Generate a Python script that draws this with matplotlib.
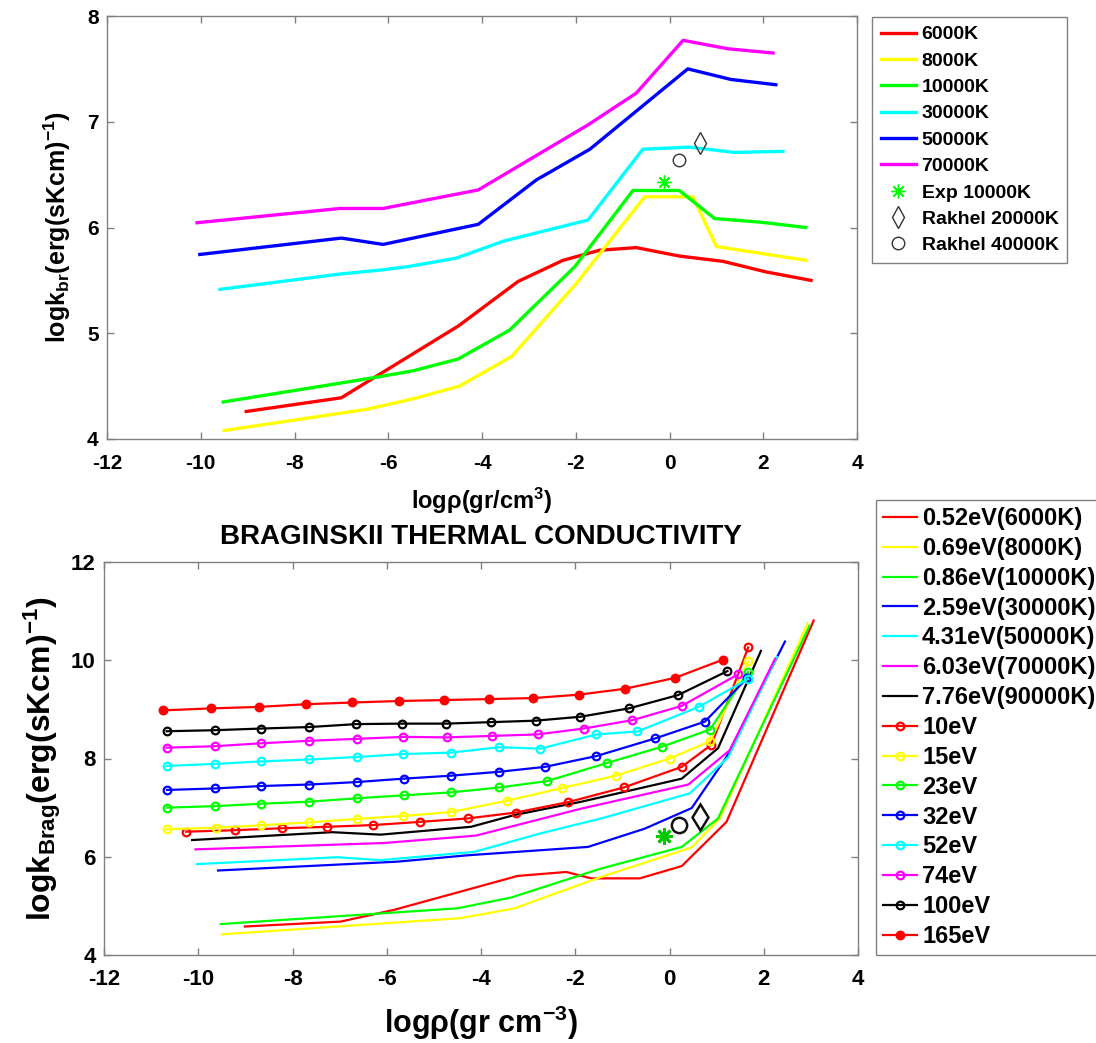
import matplotlib
matplotlib.use("Agg")
import matplotlib.pyplot as plt

plt.rcParams['font.family'] = ['Liberation Sans', 'DejaVu Sans']
plt.rcParams['font.weight'] = 'bold'
plt.rcParams['axes.unicode_minus'] = False
plt.rcParams['mathtext.fontset'] = 'custom'
plt.rcParams['mathtext.rm'] = 'Liberation Sans:bold'
plt.rcParams['mathtext.it'] = 'Liberation Sans:bold'
plt.rcParams['mathtext.bf'] = 'Liberation Sans:bold'
plt.rcParams['mathtext.default'] = 'rm'

# ---------------- upper panel: bremsstrahlung-type conductivity ----------------
top_labels = ['6000K', '8000K', '10000K', '30000K', '50000K', '70000K']
top_colors = ['#ff0000', '#ffff00', '#00ff00', '#00ffff', '#0000ff', '#ff00ff']

x_6000 = [-9.03, -7.0, -4.5, -3.23, -2.27, -1.49, -0.71, 0.21, 1.14, 2.06, 3.02]
y_6000 = [4.26, 4.39, 5.07, 5.49, 5.69, 5.785, 5.81, 5.73, 5.68, 5.58, 5.50]
x_8000 = [-9.5, -6.47, -5.47, -4.48, -3.37, -1.99, -0.53, 0.50, 1.0, 2.91]
y_8000 = [4.08, 4.28, 4.38, 4.50, 4.78, 5.47, 6.29, 6.29, 5.82, 5.69]
x_10000 = [-9.52, -7.0, -6.18, -5.47, -4.51, -3.41, -2.02, -0.78, 0.21, 0.96, 1.95, 2.91]
y_10000 = [4.35, 4.53, 4.59, 4.645, 4.756, 5.03, 5.63, 6.35, 6.35, 6.085, 6.05, 6.0]
x_30000 = [-9.59, -7.03, -6.11, -5.58, -4.55, -3.55, -1.74, -0.57, 0.43, 1.39, 2.42]
y_30000 = [5.415, 5.56, 5.60, 5.63, 5.71, 5.87, 6.07, 6.74, 6.76, 6.71, 6.72]
x_50000 = [-10.02, -7.0, -6.11, -4.08, -2.84, -1.70, 0.39, 1.31, 2.27]
y_50000 = [5.745, 5.90, 5.84, 6.03, 6.45, 6.74, 7.50, 7.40, 7.35]
x_70000 = [-10.08, -7.03, -6.11, -4.08, -1.74, -0.71, 0.29, 1.25, 2.21]
y_70000 = [6.045, 6.18, 6.18, 6.355, 6.97, 7.27, 7.77, 7.69, 7.65]

# reference points
exp_10000 = (-0.12, 6.43)
rakhel_20000 = (0.65, 6.80)
rakhel_40000 = (0.21, 6.64)

# ---------------- lower panel: Braginskii conductivity ----------------
low_labels = ['0.52eV(6000K)', '0.69eV(8000K)', '0.86eV(10000K)', '2.59eV(30000K)',
              '4.31eV(50000K)', '6.03eV(70000K)', '7.76eV(90000K)']
low_colors = ['#ff0000', '#ffff00', '#00ff00', '#0000ff', '#00ffff', '#ff00ff', '#000000']

x_052 = [-9.01, -6.98, -5.84, -3.22, -2.19, -1.66, -0.63, 0.26, 1.21, 3.06]
y_052 = [4.58, 4.68, 4.92, 5.61, 5.69, 5.56, 5.56, 5.81, 6.71, 10.81]
x_069 = [-9.50, -4.43, -3.29, -1.45, 0.47, 1.07, 2.93]
y_069 = [4.42, 4.75, 4.95, 5.59, 6.19, 6.78, 10.75]
x_086 = [-9.52, -4.50, -3.36, -1.45, 0.26, 1.03, 2.97]
y_086 = [4.63, 4.95, 5.17, 5.76, 6.20, 6.78, 10.70]
x_259 = [-9.58, -5.78, -4.28, -1.73, -0.53, 0.47, 1.21, 2.45]
y_259 = [5.72, 5.90, 6.03, 6.20, 6.57, 6.99, 8.03, 10.38]
x_431 = [-10.03, -7.05, -6.13, -4.14, -2.72, -1.45, 0.43, 1.25, 2.28]
y_431 = [5.85, 5.99, 5.93, 6.10, 6.48, 6.78, 7.29, 8.03, 10.07]
x_603 = [-10.06, -6.06, -4.11, -1.87, 0.40, 1.28, 2.24]
y_603 = [6.15, 6.28, 6.43, 6.98, 7.47, 8.17, 10.03]
x_776 = [-10.13, -7.16, -6.13, -4.21, -3.29, -1.87, 0.26, 1.03, 1.94]
y_776 = [6.34, 6.50, 6.45, 6.61, 6.85, 7.12, 7.59, 8.21, 10.19]

high_labels = ['10eV', '15eV', '23eV', '32eV', '52eV', '74eV', '100eV', '165eV']
high_colors = ['#ff0000', '#ffff00', '#00ff00', '#0000ff', '#00ffff', '#ff00ff', '#000000', '#ff0000']

x_10 = [-10.26, -9.23, -8.23, -7.26, -6.29, -5.29, -4.28, -3.26, -2.16, -0.97, 0.26, 0.89, 1.67]
y_10 = [6.51, 6.54, 6.58, 6.61, 6.645, 6.71, 6.78, 6.90, 7.11, 7.41, 7.83, 8.28, 10.26]
x_15 = [-10.66, -9.63, -8.66, -7.65, -6.64, -5.65, -4.64, -3.45, -2.28, -1.14, 0.0, 0.86, 1.67]
y_15 = [6.56, 6.59, 6.64, 6.70, 6.77, 6.83, 6.91, 7.14, 7.40, 7.65, 8.00, 8.35, 9.98]
x_23 = [-10.66, -9.65, -8.66, -7.65, -6.64, -5.64, -4.64, -3.61, -2.60, -1.32, -0.16, 0.86, 1.67]
y_23 = [7.00, 7.03, 7.08, 7.12, 7.19, 7.25, 7.31, 7.41, 7.54, 7.91, 8.24, 8.59, 9.76]
x_32 = [-10.66, -9.65, -8.66, -7.65, -6.64, -5.64, -4.64, -3.61, -2.64, -1.55, -0.30, 0.75, 1.64]
y_32 = [7.36, 7.39, 7.44, 7.47, 7.52, 7.59, 7.65, 7.73, 7.83, 8.05, 8.41, 8.75, 9.63]
x_52 = [-10.66, -9.65, -8.66, -7.65, -6.64, -5.65, -4.64, -3.61, -2.74, -1.55, -0.68, 0.62, 1.67]
y_52 = [7.85, 7.89, 7.94, 7.98, 8.03, 8.09, 8.12, 8.23, 8.20, 8.49, 8.55, 9.05, 9.62]
x_74 = [-10.67, -9.65, -8.66, -7.65, -6.64, -5.65, -4.72, -3.77, -2.80, -1.82, -0.79, 0.26, 1.45]
y_74 = [8.22, 8.25, 8.31, 8.36, 8.40, 8.44, 8.43, 8.46, 8.49, 8.61, 8.78, 9.07, 9.71]
x_100 = [-10.67, -9.65, -8.66, -7.65, -6.65, -5.68, -4.74, -3.79, -2.84, -1.89, -0.86, 0.18, 1.23]
y_100 = [8.555, 8.576, 8.61, 8.64, 8.70, 8.71, 8.71, 8.74, 8.77, 8.85, 9.02, 9.29, 9.78]
x_165 = [-10.74, -9.73, -8.72, -7.71, -6.73, -5.74, -4.78, -3.82, -2.89, -1.92, -0.94, 0.11, 1.13]
y_165 = [8.98, 9.02, 9.05, 9.105, 9.14, 9.17, 9.19, 9.21, 9.23, 9.30, 9.42, 9.64, 10.01]

x_ticks = [-12, -10, -8, -6, -4, -2, 0, 2, 4]

W, H = 1096, 1043
fig = plt.figure(figsize=(W / 100, H / 100), dpi=100)
spine_gray = '#808080'


def style_axes(ax, yticks, fs, xpad):
    ax.set_xlim(-12, 4)
    ax.set_xticks(x_ticks)
    ax.set_yticks(yticks)
    ax.tick_params(direction='in', top=True, right=True, length=5, width=1,
                   color=spine_gray, labelsize=fs)
    ax.tick_params(axis='x', pad=xpad)
    ax.tick_params(axis='y', pad=6)
    for s in ax.spines.values():
        s.set_color(spine_gray)
        s.set_linewidth(1.0)
    for lab in ax.get_xticklabels() + ax.get_yticklabels():
        lab.set_fontweight('bold')


# upper axes
ax1 = fig.add_axes([107 / W, 1 - 439 / H, 750 / W, 423 / H])
top_x = [x_6000, x_8000, x_10000, x_30000, x_50000, x_70000]
top_y = [y_6000, y_8000, y_10000, y_30000, y_50000, y_70000]
handles_top = []
for xs, ys, c, lab in zip(top_x, top_y, top_colors, top_labels):
    h, = ax1.plot(xs, ys, color=c, lw=2.4, label=lab)
    handles_top.append(h)
h_exp, = ax1.plot(*exp_10000, ls='none', marker=(8, 2, 0), ms=10, mew=1.0,
                  color='#00ff00', label='Exp 10000K')
h_r20, = ax1.plot(*rakhel_20000, ls='none', marker='d', ms=11, mew=1.0,
                  mfc='none', mec='#333333', label='Rakhel 20000K')
h_r40, = ax1.plot(*rakhel_40000, ls='none', marker='o', ms=9, mew=1.0,
                  mfc='none', mec='#333333', label='Rakhel 40000K')
handles_top += [h_exp, h_r20, h_r40]
ax1.set_ylim(4, 8)
style_axes(ax1, [4, 5, 6, 7, 8], 15, 11)
ax1.set_xlabel(r'log$\rho$(gr/cm$^{3}$)', fontsize=17, fontweight='bold', labelpad=9)
ax1.set_ylabel(r'logk$_{br}$(erg(sKcm)$^{-1}$)', fontsize=18, fontweight='bold', labelpad=10)

leg1 = fig.legend(handles=handles_top, loc='upper left',
                  bbox_to_anchor=(872 / W, 1 - 17 / H), borderaxespad=0,
                  fancybox=False, edgecolor=spine_gray, framealpha=1,
                  prop={'weight': 'bold', 'size': 14}, handlelength=1.8,
                  handletextpad=0.3, labelspacing=0.45, borderpad=0.45)
leg1.get_frame().set_linewidth(1.0)

# lower axes
ax2 = fig.add_axes([104 / W, 1 - 955 / H, 754 / W, 393 / H])
low_x = [x_052, x_069, x_086, x_259, x_431, x_603, x_776]
low_y = [y_052, y_069, y_086, y_259, y_431, y_603, y_776]
handles_low = []
for xs, ys, c, lab in zip(low_x, low_y, low_colors, low_labels):
    h, = ax2.plot(xs, ys, color=c, lw=1.6, label=lab)
    handles_low.append(h)
high_x = [x_10, x_15, x_23, x_32, x_52, x_74, x_100, x_165]
high_y = [y_10, y_15, y_23, y_32, y_52, y_74, y_100, y_165]
for i, (xs, ys, c, lab) in enumerate(zip(high_x, high_y, high_colors, high_labels)):
    filled = (i == len(high_labels) - 1)
    h, = ax2.plot(xs, ys, color=c, lw=1.6, marker='o', ms=5.5, mew=1.6,
                  mfc=c if filled else 'none', mec=c, label=lab)
    handles_low.append(h)
ax2.plot(*exp_10000, ls='none', marker=(8, 2, 0), ms=12, mew=2.0, color='#00c800')
ax2.plot(*rakhel_40000, ls='none', marker='o', ms=11, mew=1.8, mfc='none', mec='#111111')
ax2.plot(*rakhel_20000, ls='none', marker='d', ms=13, mew=1.8, mfc='none', mec='#111111')
ax2.set_ylim(4, 12)
style_axes(ax2, [4, 6, 8, 10, 12], 16, 10)
ax2.set_title('BRAGINSKII THERMAL CONDUCTIVITY', fontsize=20, fontweight='bold', pad=13)
ax2.set_xlabel(r'log$\rho$(gr cm$^{-3}$)', fontsize=22, fontweight='bold', labelpad=10)
ax2.set_ylabel(r'logk$_{Brag}$(erg(sKcm)$^{-1}$)', fontsize=23, fontweight='bold', labelpad=6)

leg2 = fig.legend(handles=handles_low, loc='upper left',
                  bbox_to_anchor=(876 / W, 1 - 500 / H), borderaxespad=0,
                  fancybox=False, edgecolor=spine_gray, framealpha=1,
                  prop={'weight': 'bold', 'size': 17}, handlelength=1.45,
                  handletextpad=0.2, labelspacing=0.29, borderpad=0.3)
leg2.get_frame().set_linewidth(1.0)

fig.savefig('out.png', dpi=100)
